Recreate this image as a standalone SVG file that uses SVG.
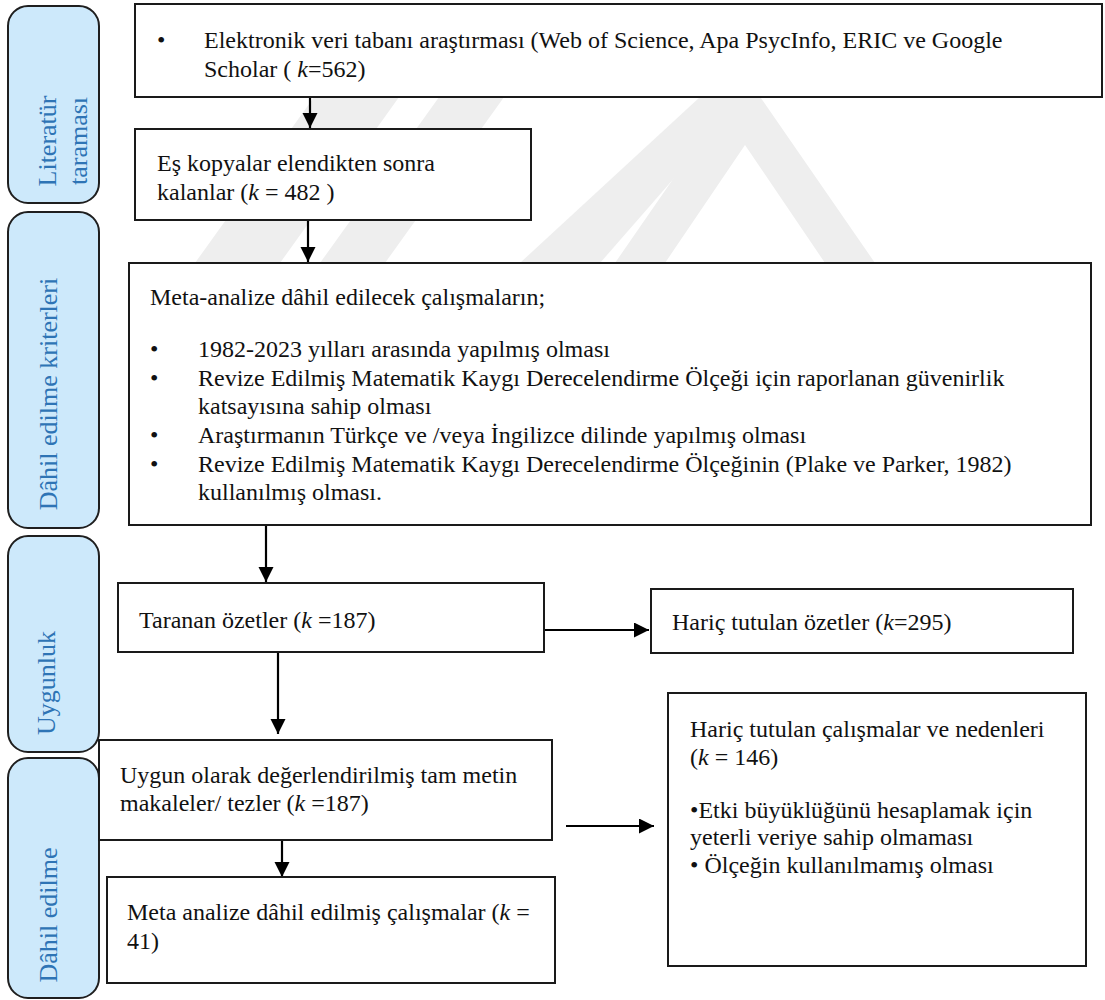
<svg xmlns="http://www.w3.org/2000/svg" width="1105" height="1000" viewBox="0 0 1105 1000">
<defs>
<style>
.bg{fill:#ffffff}
.wm{fill:#eeeeee}
.side{fill:#cde9fb;stroke:#1f1f1f;stroke-width:2}
.stxt{font-family:"Liberation Serif","Times New Roman",serif;font-size:26px;fill:#2e74b5;text-anchor:middle}
.box{fill:#ffffff;stroke:#1a1a1a;stroke-width:2}
.t{font-family:"Liberation Serif","Times New Roman",serif;font-size:24px;fill:#111111}
.conn{stroke:#000000;stroke-width:2.2;fill:none}
</style>
<marker id="ah" markerWidth="16" markerHeight="16" refX="15" refY="7.5" orient="auto" markerUnits="userSpaceOnUse">
<path d="M0,0 L15,7.5 L0,15 z" fill="#000000"/>
</marker>
</defs>
<rect class="bg" x="0" y="0" width="1105" height="1000"/>
<g id="watermark">
<polygon class="wm" points="615,263 745,75 875,263 825,263 745,145 665,263"/>
<polygon class="wm" points="520,263 600,263 745,97 700,97"/>
<polygon class="wm" points="195,263 280,263 440,40 355,40"/>
<polygon class="wm" points="320,263 385,263 545,40 480,40"/>
</g>
<g id="side-literatur">
<rect class="side" x="8" y="6" width="91" height="197" rx="20" ry="20"/>
<text class="stxt" transform="translate(56,141) rotate(-90)">Literatür</text>
<text class="stxt" transform="translate(87,141) rotate(-90)">taraması</text>
</g>
<g id="side-dahil-kriter">
<rect class="side" x="8" y="212" width="91" height="316" rx="20" ry="20"/>
<text class="stxt" transform="translate(57,394) rotate(-90)">Dâhil edilme kriterleri</text>
</g>
<g id="side-uygunluk">
<rect class="side" x="8" y="536" width="91" height="216" rx="20" ry="20"/>
<text class="stxt" transform="translate(55,683) rotate(-90)">Uygunluk</text>
</g>
<g id="side-dahil">
<rect class="side" x="8" y="758" width="91" height="240" rx="20" ry="20"/>
<text class="stxt" transform="translate(57,915) rotate(-90)">Dâhil edilme</text>
</g>
<g id="connectors">
<line class="conn" x1="310" y1="97" x2="310" y2="128" marker-end="url(#ah)"/>
<line class="conn" x1="308" y1="220" x2="308" y2="262" marker-end="url(#ah)"/>
<line class="conn" x1="266" y1="525" x2="266" y2="582" marker-end="url(#ah)"/>
<line class="conn" x1="543" y1="630" x2="649" y2="630" marker-end="url(#ah)"/>
<line class="conn" x1="278" y1="652" x2="278" y2="734" marker-end="url(#ah)"/>
<line class="conn" x1="566" y1="826" x2="654" y2="826" marker-end="url(#ah)"/>
<line class="conn" x1="282" y1="840" x2="282" y2="877" marker-end="url(#ah)"/>
</g>
<g id="box-elektronik">
<rect class="box" x="135" y="4" width="967" height="93"/>
<text class="t" x="157" y="48">•</text>
<text class="t" x="204" y="48">Elektronik veri tabanı araştırması (Web of Science, Apa PsycInfo, ERIC ve Google</text>
<text class="t" x="204" y="77">Scholar ( <tspan font-style="italic">k</tspan>=562)</text>
</g>
<g id="box-kopya">
<rect class="box" x="135" y="129" width="396" height="91"/>
<text class="t" x="157" y="171">Eş kopyalar elendikten sonra</text>
<text class="t" x="157" y="200">kalanlar (<tspan font-style="italic">k</tspan> = 482 )</text>
</g>
<g id="box-kriter">
<rect class="box" x="129" y="263" width="962" height="262"/>
<text class="t" x="150" y="305">Meta-analize dâhil edilecek çalışmaların;</text>
<text class="t" x="150" y="357">•</text>
<text class="t" x="198" y="357">1982-2023 yılları arasında yapılmış olması</text>
<text class="t" x="150" y="386">•</text>
<text class="t" x="198" y="386">Revize Edilmiş Matematik Kaygı Derecelendirme Ölçeği için raporlanan güvenirlik</text>
<text class="t" x="198" y="414">katsayısına sahip olması</text>
<text class="t" x="150" y="443">•</text>
<text class="t" x="198" y="443">Araştırmanın Türkçe ve /veya İngilizce dilinde yapılmış olması</text>
<text class="t" x="150" y="472">•</text>
<text class="t" x="198" y="472">Revize Edilmiş Matematik Kaygı Derecelendirme Ölçeğinin (Plake ve Parker, 1982)</text>
<text class="t" x="198" y="500">kullanılmış olması.</text>
</g>
<g id="box-taranan">
<rect class="box" x="118" y="583" width="426" height="69"/>
<text class="t" x="139" y="628">Taranan özetler (<tspan font-style="italic">k</tspan> =187)</text>
</g>
<g id="box-haric-ozet">
<rect class="box" x="651" y="589" width="422" height="64"/>
<text class="t" x="672" y="630">Hariç tutulan özetler (<tspan font-style="italic">k</tspan>=295)</text>
</g>
<g id="box-uygun">
<rect class="box" x="99" y="740" width="453" height="100"/>
<text class="t" x="120" y="783">Uygun olarak değerlendirilmiş tam metin</text>
<text class="t" x="120" y="811">makaleler/ tezler (<tspan font-style="italic">k</tspan> =187)</text>
</g>
<g id="box-haric-calisma">
<rect class="box" x="668" y="693" width="418" height="273"/>
<text class="t" x="690" y="737">Hariç tutulan çalışmalar ve nedenleri</text>
<text class="t" x="690" y="765">(<tspan font-style="italic">k</tspan> = 146)</text>
<text class="t" x="690" y="818">•Etki büyüklüğünü hesaplamak için</text>
<text class="t" x="690" y="845">yeterli veriye sahip olmaması</text>
<text class="t" x="690" y="873">• Ölçeğin kullanılmamış olması</text>
</g>
<g id="box-dahil">
<rect class="box" x="107" y="877" width="448" height="106"/>
<text class="t" x="127" y="920">Meta analize dâhil edilmiş çalışmalar (<tspan font-style="italic">k</tspan> =</text>
<text class="t" x="127" y="949">41)</text>
</g>
</svg>
